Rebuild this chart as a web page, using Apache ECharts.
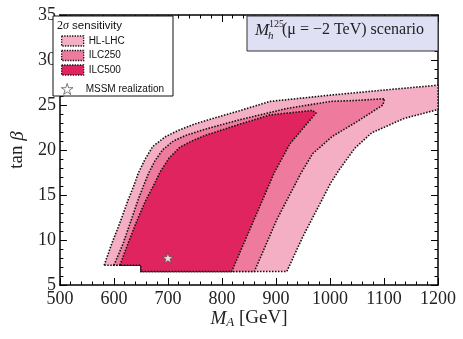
<!DOCTYPE html>
<html>
<head>
<meta charset="utf-8">
<script src="https://cdn.jsdelivr.net/npm/echarts@6/dist/echarts.min.js"></script>
<style>
  html, body { margin: 0; padding: 0; background: #fff; }
  #chart { width: 463px; height: 339px; }
</style>
</head>
<body>
<div id="chart"></div>
<script>
// region boundaries: [M_A (GeV), tan beta]
const hlLhcBoundary = [
  [582, 7.2], [596, 9.6], [611, 11.9], [626, 14.4], [636, 15.9], [645, 17.4], [657, 18.9],
  [672, 20.4], [696, 21.5], [720, 22.2], [750, 22.9], [783, 23.5], [829, 24.3],
  [889, 25.4], [1001, 26.1], [1107, 26.7], [1200, 27.2],
  [1200, 24.5], [1137, 23.5], [1077, 21.9], [1046, 20.2], [1017, 17.8], [1001, 16.3],
  [950, 10.4], [920, 6.5], [650, 6.5], [650, 7.2]
];
const ilc250Boundary = [
  [600, 7.2], [617, 9.6], [633, 12.4], [645, 14.5], [654, 15.9], [664, 17.4], [676, 18.8],
  [690, 20.0], [710, 21.0], [732, 21.6], [768, 22.3], [829, 23.3], [919, 24.6],
  [1001, 25.4], [1046, 25.5], [1101, 25.7], [1098, 25.0],
  [1046, 23.0], [1004, 21.5], [968, 19.6], [946, 17.4], [901, 12.2], [860, 6.5],
  [650, 6.5], [650, 7.2]
];
const ilc500Boundary = [
  [611, 7.2], [626, 9.6], [643, 12.2], [658, 14.3], [672, 15.9], [686, 17.6], [702, 19.1],
  [722, 20.3], [744, 21.0], [768, 21.6], [829, 22.8], [889, 23.9], [968, 24.4],
  [974, 24.1], [950, 22.4], [926, 20.7],
  [897, 17.5], [859, 12.2], [818, 6.5], [650, 6.5], [650, 7.2]
];
const mssmPoint = [[700, 8.0]];

const xTicks = [500, 1200, 100];
const yTicks = [5, 35, 5];

const colors = { hl: "#f4afc5", ilc250: "#ee7b9e", ilc500: "#e0245f" };
const starPath = "path://M50,0L61.2,34.6L97.6,34.5L68.1,55.9L79.4,90.5L50,69L20.6,90.5L31.9,55.9L2.4,34.5L38.8,34.6Z";
const serif = "Liberation Serif";
const sans = "Liberation Sans";

const chart = echarts.init(document.getElementById("chart"));

// polygon region drawn through the axes
function regionSeries(name, boundary, fill) {
  return {
    name: name,
    type: "custom",
    z: 2,
    itemStyle: { color: fill },
    data: [0],
    renderItem: function (params, api) {
      const pts = boundary.map((p) => api.coord(p));
      return {
        type: "polygon",
        shape: { points: pts },
        style: { fill: fill, stroke: "#111", lineWidth: 1.6, lineDash: [1.5, 1.5] },
      };
    },
  };
}

const axisCommon = {
  type: "value",
  axisLine: { show: true, onZero: false, lineStyle: { color: "#000", width: 1.5 } },
  axisTick: { show: true, inside: true, length: 7, lineStyle: { color: "#000", width: 1 } },
  minorTick: { show: true, splitNumber: 5, length: 3.5, lineStyle: { color: "#000", width: 1 } },
  splitLine: { show: false },
};

const plainLabel = (v) => String(v);
const patchStyle = (c) => ({ color: c, borderColor: "#111", borderWidth: 1.3, borderType: [1.3, 1.3] });
const legendText = { fontFamily: sans, fontSize: 10, color: "#111", lineHeight: 12 };

const option = {
  animation: false,
  backgroundColor: "#fff",
  grid: { left: 52, right: 25, top: 15, bottom: 54 },
  xAxis: [
    Object.assign({}, axisCommon, {
      min: xTicks[0], max: xTicks[1], interval: xTicks[2], position: "bottom",
      axisLabel: { fontFamily: serif, fontSize: 18, color: "#222", margin: 5, formatter: plainLabel },
      name: "{m|M}{a|A}{n| [GeV]}",
      nameLocation: "middle",
      nameGap: 23,
      nameMoveOverlap: false,
      nameTextStyle: {
        fontFamily: serif, fontSize: 19, color: "#222",
        rich: {
          m: { fontFamily: serif, fontStyle: "italic", fontSize: 19, color: "#222" },
          a: { fontFamily: serif, fontStyle: "italic", fontSize: 13, color: "#222", padding: [8, 0, 0, 0] },
          n: { fontFamily: serif, fontSize: 19, color: "#222" },
        },
      },
    }),
    Object.assign({}, axisCommon, {
      min: xTicks[0], max: xTicks[1], interval: xTicks[2], position: "top",
      axisLabel: { show: false },
    }),
  ],
  yAxis: [
    Object.assign({}, axisCommon, {
      min: yTicks[0], max: yTicks[1], interval: yTicks[2], position: "left",
      axisLabel: { fontFamily: serif, fontSize: 18, color: "#222", margin: 4, formatter: plainLabel },
      name: "tan {b|β}",
      nameLocation: "middle",
      nameGap: 30,
      nameTextStyle: {
        fontFamily: serif, fontSize: 19, color: "#222",
        rich: { b: { fontFamily: serif, fontStyle: "italic", fontSize: 19, color: "#222" } },
      },
    }),
    Object.assign({}, axisCommon, {
      min: yTicks[0], max: yTicks[1], interval: yTicks[2], position: "right",
      axisLabel: { show: false },
    }),
  ],
  legend: [
    {
      orient: "vertical",
      left: 56,
      top: 30,
      itemWidth: 22,
      itemHeight: 10,
      itemGap: 2.5,
      z: 10,
      textStyle: legendText,
      data: [
        { name: "HL-LHC", icon: "rect", itemStyle: patchStyle(colors.hl) },
        { name: "ILC250", icon: "rect", itemStyle: patchStyle(colors.ilc250) },
        { name: "ILC500", icon: "rect", itemStyle: patchStyle(colors.ilc500) },
      ],
    },
    {
      orient: "vertical",
      left: 56,
      top: 78,
      itemWidth: 27,
      itemHeight: 11,
      z: 10,
      textStyle: legendText,
      data: [
        { name: "MSSM realization", icon: starPath, itemStyle: { color: "#fff", borderColor: "#333", borderWidth: 0.8 } },
      ],
    },
  ],
  graphic: [
    {
      type: "rect", z: 8, left: 52.5, top: 15.5,
      shape: { width: 120, height: 80 },
      style: { fill: "#fff", stroke: "#111", lineWidth: 1 },
    },
    {
      type: "text", z: 9, left: 57, top: 20,
      style: {
        text: "{s|2}{g|σ}{t| sensitivity}",
        rich: {
          s: { fontFamily: serif, fontSize: 12, fill: "#111" },
          g: { fontFamily: serif, fontStyle: "italic", fontSize: 12, fill: "#111" },
          t: { fontFamily: sans, fontSize: 11.5, fill: "#111" },
        },
      },
    },
    {
      type: "rect", z: 8, left: 246.5, top: 15.5,
      shape: { width: 191, height: 35 },
      style: { fill: "#e0e0f5", stroke: "#333", lineWidth: 1 },
    },
    { type: "text", z: 9, left: 255, top: 22, style: { text: "M", font: "italic 17px " + serif, fill: "#222" } },
    { type: "text", z: 9, left: 269, top: 19, style: { text: "125", font: "10px " + serif, fill: "#222" } },
    { type: "text", z: 9, left: 268, top: 31, style: { text: "h", font: "italic 11px " + serif, fill: "#222" } },
    { type: "text", z: 9, left: 282, top: 22, style: { text: "(μ = −2 TeV) scenario", font: "16px " + serif, fill: "#222" } },
  ],
  series: [
    regionSeries("HL-LHC", hlLhcBoundary, colors.hl),
    regionSeries("ILC250", ilc250Boundary, colors.ilc250),
    regionSeries("ILC500", ilc500Boundary, colors.ilc500),
    {
      name: "MSSM realization",
      type: "scatter",
      z: 5,
      symbol: starPath,
      symbolSize: 11,
      symbolKeepAspect: true,
      itemStyle: { color: "#fff", borderColor: "#444", borderWidth: 0.8 },
      data: mssmPoint,
    },
  ],
};

chart.setOption(option);
</script>
</body>
</html>
